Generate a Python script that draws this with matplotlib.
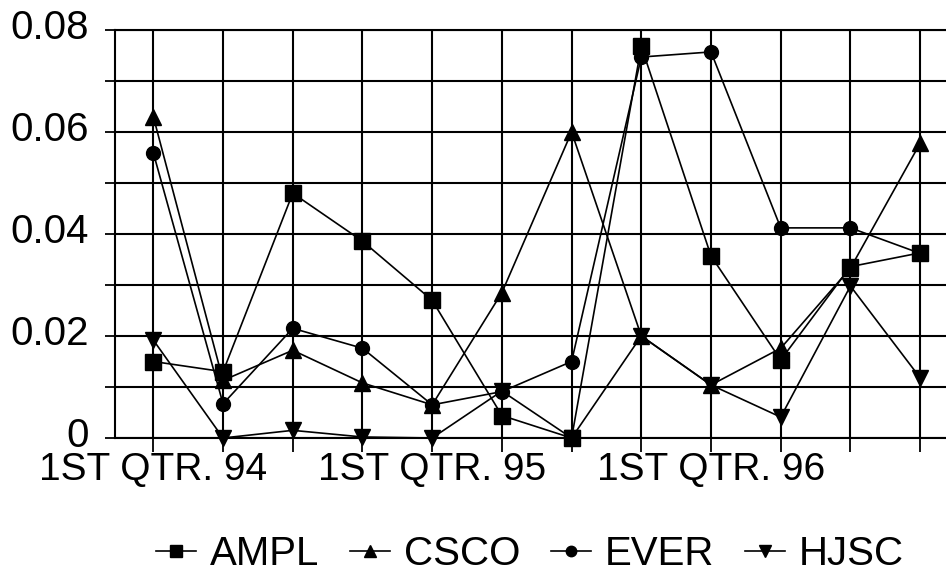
import matplotlib
matplotlib.use("Agg")
import matplotlib.pyplot as plt
from matplotlib.ticker import MultipleLocator
from matplotlib.transforms import ScaledTranslation

plt.rcParams['font.family'] = ['Liberation Sans', 'DejaVu Sans']

quarters = list(range(12))
tick_labels = ['1ST QTR. 94', '', '', '', '1ST QTR. 95', '', '', '',
               '1ST QTR. 96', '', '', '']
y_ticks = [0, 0.02, 0.04, 0.06, 0.08]
y_labels = ['0', '0.02', '0.04', '0.06', '0.08']

ampl = [0.015, 0.013, 0.048, 0.0386, 0.027, 0.0044, 0.0, 0.0768, 0.0357, 0.0153, 0.0336, 0.0363]
csco = [0.063, 0.0113, 0.0172, 0.0108, 0.0065, 0.0285, 0.060, 0.020, 0.0104, 0.0176, 0.0333, 0.0578]
ever = [0.0559, 0.0067, 0.0215, 0.0176, 0.0065, 0.0091, 0.015, 0.0747, 0.0757, 0.0412, 0.0412, 0.0362]
hjsc = [0.0192, 0.0, 0.0015, 0.0002, 0.0, 0.0092, 0.0, 0.020, 0.0104, 0.0041, 0.0298, 0.0118]

series = [('AMPL', ampl, 's'), ('CSCO', csco, '^'), ('EVER', ever, 'o'), ('HJSC', hjsc, 'v')]

fig = plt.figure(figsize=(9.46, 5.81), dpi=100)
ax = fig.add_axes([115/946, (581-438)/581, (955-115)/946, (438-30)/581])

for name, vals, mk in series:
    ax.plot(quarters, vals, color='black', linewidth=1.2, marker=mk,
            markersize=11 if mk != 'o' else 10, markerfacecolor='black',
            markeredgecolor='black', label=name, clip_on=False, zorder=3)

ax.set_xlim(-0.55, 11.5)
ax.set_ylim(0, 0.08)
ax.set_xticks(quarters)
ax.set_xticklabels(tick_labels, fontsize=28)
ax.yaxis.set_minor_locator(MultipleLocator(0.01))
ax.set_yticks(y_ticks)
ax.set_yticklabels(y_labels, fontsize=29)
ax.tick_params(axis='x', direction='out', length=10, width=1.3, pad=0, colors='black')
ax.tick_params(axis='y', which='both', direction='out', length=7, width=1.3, pad=12)
ax.tick_params(axis='y', which='minor', length=7)
shift = ScaledTranslation(0, 6/100, fig.dpi_scale_trans)
for lbl in ax.get_yticklabels():
    lbl.set_verticalalignment('center_baseline')
    lbl.set_transform(lbl.get_transform() + shift)

ax.grid(True, which='both', axis='y', color='black', linewidth=1.5)
ax.grid(True, which='major', axis='x', color='black', linewidth=1.5)
ax.set_axisbelow(True)
for sp in ax.spines.values():
    sp.set_linewidth(1.5)
    sp.set_color('black')

leg = fig.legend(loc='center', bbox_to_anchor=(530/946, 1 - 554/581), ncol=4,
                 frameon=False, fontsize=29, handlelength=1.0, handletextpad=0.35,
                 columnspacing=0.75, markerscale=0.75)

fig.savefig('out.png', dpi=100)
